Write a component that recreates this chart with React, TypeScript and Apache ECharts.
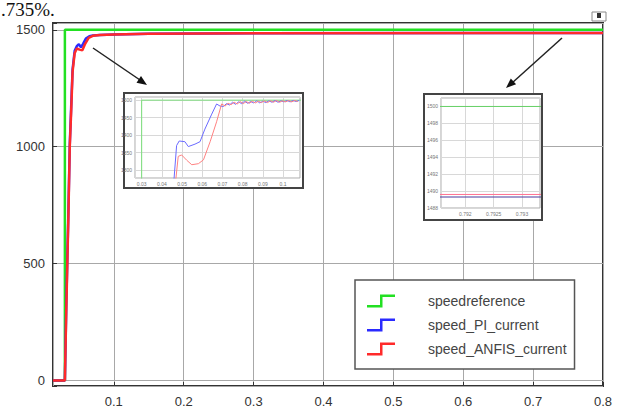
import React, { useEffect, useRef } from 'react';
import * as echarts from 'echarts';

// ---------- main chart data ----------
const X_TICKS = [0.1, 0.2, 0.3, 0.4, 0.5, 0.6, 0.7, 0.8];
const Y_TICKS = [0, 500, 1000, 1500];
const SERIES_NAMES = ['speedreference', 'speed_PI_current', 'speed_ANFIS_current'];

const REF_T = [0.013, 0.03, 0.03, 0.8];
const REF_V = [0, 0, 1500, 1500];

const PI_T = [0.013, 0.03, 0.032, 0.035, 0.037, 0.039, 0.041, 0.044, 0.047, 0.05, 0.053, 0.056, 0.06, 0.065, 0.07, 0.08, 0.1, 0.15, 0.3, 0.8];
const PI_V = [0, 0, 320, 720, 1010, 1170, 1330, 1410, 1430, 1438, 1425, 1440, 1462, 1472, 1476, 1478, 1480, 1483, 1485, 1486];

const ANFIS_T = [0.013, 0.03, 0.032, 0.035, 0.037, 0.039, 0.041, 0.044, 0.047, 0.051, 0.055, 0.059, 0.064, 0.07, 0.08, 0.1, 0.15, 0.3, 0.8];
const ANFIS_V = [0, 0, 300, 700, 1000, 1150, 1320, 1400, 1420, 1415, 1412, 1440, 1465, 1474, 1478, 1480, 1483, 1485, 1486];

// ---------- left inset (zoom on 0.03 .. 0.1) ----------
const L_X_TICKS = [0.03, 0.04, 0.05, 0.06, 0.07, 0.08, 0.09, 0.1];
const L_Y_TICKS = [1300, 1350, 1400, 1450, 1500];
const L_REF_T = [0.03, 0.03, 0.11];
const L_REF_V = [1200, 1500, 1500];
const L_PI_T = [0.0457, 0.0473, 0.0486, 0.0514, 0.0531, 0.0564, 0.0589, 0.0613, 0.0647, 0.0671, 0.0688, 0.0705, 0.072, 0.0735, 0.075, 0.0765, 0.078, 0.0795, 0.081, 0.0825, 0.084, 0.0855, 0.087, 0.0885, 0.09, 0.0915, 0.093, 0.0945, 0.096, 0.0975, 0.099, 0.1005, 0.102, 0.1035, 0.105, 0.1065, 0.108];
const L_PI_V = [1250, 1370, 1383, 1381, 1367, 1374, 1381, 1417, 1460, 1489, 1483, 1482, 1490, 1486, 1494, 1488, 1495, 1490, 1497, 1491, 1496, 1492, 1498, 1492, 1497, 1493, 1498, 1494, 1499, 1494, 1498, 1495, 1499, 1495, 1499, 1496, 1499];
const L_AN_T = [0.0465, 0.0481, 0.0498, 0.0523, 0.0548, 0.0581, 0.0606, 0.0639, 0.0671, 0.0696, 0.0713, 0.0728, 0.0743, 0.0758, 0.0773, 0.0788, 0.0803, 0.0818, 0.0833, 0.0848, 0.0863, 0.0878, 0.0893, 0.0908, 0.0923, 0.0938, 0.0953, 0.0968, 0.0983, 0.0998, 0.1013, 0.1028, 0.1043, 0.1058, 0.1073];
const L_AN_V = [1250, 1339, 1343, 1328, 1315, 1318, 1329, 1381, 1438, 1489, 1483, 1491, 1487, 1494, 1489, 1496, 1490, 1496, 1491, 1497, 1492, 1497, 1493, 1498, 1493, 1498, 1494, 1499, 1494, 1498, 1495, 1499, 1495, 1499, 1496];

// ---------- right inset (zoom on steady state) ----------
const R_X_TICKS = [0.792, 0.7925, 0.793];
const R_Y_TICKS = [1488, 1490, 1492, 1494, 1496, 1498, 1500];
const R_T = [0.7915, 0.7934];
const R_REF_V = [1500, 1500];
const R_PI_V = [1489.3, 1489.3];
const R_AN_V = [1489.6, 1489.6];

const zip = (t: number[], v: number[]) => t.map((x, i) => [x, v[i]]);
const tickFmt = (ticks: number[]) => (v: number) => {
  const m = ticks.find((t) => Math.abs(t - v) < 1e-9);
  return m === undefined ? '' : String(m);
};

const STEP_ICON = 'path://M0,10.5 L13,10.5 L13,0 L28,0 L28,2.5 L15.5,2.5 L15.5,13 L0,13 Z';
const FONT = "'Liberation Sans', Arial, sans-serif";

export default function App() {
  const ref = useRef<HTMLDivElement>(null);
  useEffect(() => {
    if (!ref.current) return;
    const chart = echarts.init(ref.current, undefined, { renderer: 'svg' });
    const insetAxisLabel = { fontSize: 5, color: '#777', fontFamily: FONT, margin: 3 };
    const insetSplit = { show: true, lineStyle: { color: '#d8d8d8', width: 1 } };
    chart.setOption({
      animation: false,
      backgroundColor: '#fff',
      grid: [
        { left: 53, top: 23, right: 23, bottom: 24, show: true, borderColor: '#333', borderWidth: 2, backgroundColor: '#fff' },
        { left: 135, top: 97, width: 165, height: 81, show: true, borderColor: '#aaa', borderWidth: 1, backgroundColor: '#fff', z: 6 },
        { left: 441, top: 98, width: 99, height: 110, show: true, borderColor: '#aaa', borderWidth: 1, backgroundColor: '#fff', z: 6 },
      ],
      xAxis: [
        {
          type: 'value', gridIndex: 0, min: 0.013, max: 0.8, splitNumber: 8,
          axisLine: { show: false, onZero: false },
          axisTick: { show: true, inside: true, length: 4, lineStyle: { color: '#333' } },
          axisLabel: { formatter: tickFmt(X_TICKS), fontSize: 13, color: '#333', fontFamily: FONT, margin: 9, showMinLabel: false },
          splitLine: { show: true, lineStyle: { color: '#a8a8a8', width: 1 } },
        },
        {
          type: 'value', gridIndex: 1, min: 0.0267, max: 0.1084, splitNumber: 8, z: 7,
          axisLine: { show: false, onZero: false }, axisTick: { show: false },
          axisLabel: { ...insetAxisLabel, formatter: tickFmt(L_X_TICKS) }, splitLine: insetSplit,
        },
        {
          type: 'value', gridIndex: 2, min: 0.79157, max: 0.79332, splitNumber: 3, z: 7,
          axisLine: { show: false, onZero: false }, axisTick: { show: false },
          axisLabel: { ...insetAxisLabel, formatter: tickFmt(R_X_TICKS) }, splitLine: insetSplit,
        },
      ],
      yAxis: [
        {
          type: 'value', gridIndex: 0, min: -24, max: 1529, splitNumber: 3,
          axisLine: { show: false },
          axisTick: { show: true, inside: true, length: 4, lineStyle: { color: '#333' } },
          axisLabel: { formatter: tickFmt(Y_TICKS), fontSize: 13, color: '#333', fontFamily: FONT, margin: 8 },
          splitLine: { show: true, lineStyle: { color: '#a8a8a8', width: 1 } },
        },
        {
          type: 'value', gridIndex: 1, min: 1277, max: 1509, splitNumber: 5, z: 7,
          axisLine: { show: false }, axisTick: { show: false },
          axisLabel: { ...insetAxisLabel, formatter: tickFmt(L_Y_TICKS) }, splitLine: insetSplit,
        },
        {
          type: 'value', gridIndex: 2, min: 1488, max: 1501, splitNumber: 6, z: 7,
          axisLine: { show: false }, axisTick: { show: false },
          axisLabel: { ...insetAxisLabel, formatter: tickFmt(R_Y_TICKS) }, splitLine: insetSplit,
        },
      ],
      legend: {
        orient: 'vertical', left: 355, top: 280,
        padding: [14, 8, 13, 12], itemGap: 10, itemWidth: 28, itemHeight: 13,
        backgroundColor: '#fff', borderColor: '#555', borderWidth: 1.5, borderRadius: 0,
        textStyle: { fontSize: 14, color: '#444', fontFamily: FONT, padding: [0, 0, 0, 28] },
        data: SERIES_NAMES.map((n) => ({ name: n, icon: STEP_ICON })),
      },
      series: [
        { name: SERIES_NAMES[0], type: 'line', xAxisIndex: 0, yAxisIndex: 0, data: zip(REF_T, REF_V), showSymbol: false, lineStyle: { color: '#22e022', width: 2.5 }, itemStyle: { color: '#22e022' } },
        { name: SERIES_NAMES[1], type: 'line', xAxisIndex: 0, yAxisIndex: 0, data: zip(PI_T, PI_V), showSymbol: false, lineStyle: { color: '#2a2aff', width: 2.5 }, itemStyle: { color: '#2a2aff' } },
        { name: SERIES_NAMES[2], type: 'line', xAxisIndex: 0, yAxisIndex: 0, data: zip(ANFIS_T, ANFIS_V), showSymbol: false, lineStyle: { color: '#ff2a2a', width: 2.5 }, itemStyle: { color: '#ff2a2a' } },
        { name: 'L_ref', type: 'line', xAxisIndex: 1, yAxisIndex: 1, z: 8, data: zip(L_REF_T, L_REF_V), showSymbol: false, lineStyle: { color: '#7be07b', width: 1 } },
        { name: 'L_pi', type: 'line', xAxisIndex: 1, yAxisIndex: 1, z: 8, data: zip(L_PI_T, L_PI_V), showSymbol: false, lineStyle: { color: '#6a6aff', width: 1 } },
        { name: 'L_an', type: 'line', xAxisIndex: 1, yAxisIndex: 1, z: 8, data: zip(L_AN_T, L_AN_V), showSymbol: false, lineStyle: { color: '#ff8080', width: 1 } },
        { name: 'R_ref', type: 'line', xAxisIndex: 2, yAxisIndex: 2, z: 8, data: zip(R_T, R_REF_V), showSymbol: false, lineStyle: { color: '#66d066', width: 1 } },
        { name: 'R_an', type: 'line', xAxisIndex: 2, yAxisIndex: 2, z: 8, data: zip(R_T, R_AN_V), showSymbol: false, lineStyle: { color: '#ff7090', width: 1 } },
        { name: 'R_pi', type: 'line', xAxisIndex: 2, yAxisIndex: 2, z: 8, data: zip(R_T, R_PI_V), showSymbol: false, lineStyle: { color: '#4a3a9a', width: 1 } },
      ],
      graphic: [
        { type: 'text', z: 20, x: 1, y: 0, style: { text: '.735%.', fontSize: 19, fontFamily: "'Liberation Serif', 'Times New Roman', serif", fill: '#111', verticalAlign: 'top' } },
        { type: 'rect', z: 5, shape: { x: 124, y: 93, width: 179, height: 95 }, style: { fill: '#fff', stroke: '#444', lineWidth: 2 } },
        { type: 'rect', z: 5, shape: { x: 424, y: 94, width: 118, height: 126 }, style: { fill: '#fff', stroke: '#444', lineWidth: 2 } },
        { type: 'line', z: 10, shape: { x1: 93, y1: 48, x2: 140, y2: 80 }, style: { stroke: '#222', lineWidth: 1.5 } },
        { type: 'polygon', z: 10, shape: { points: [[147, 85], [136.5, 82.65], [141, 76.05]] }, style: { fill: '#111' } },
        { type: 'line', z: 10, shape: { x1: 562, y1: 38, x2: 512, y2: 83 }, style: { stroke: '#222', lineWidth: 1.5 } },
        { type: 'polygon', z: 10, shape: { points: [[506, 88], [510.8, 78.4], [516.1, 84.3]] }, style: { fill: '#111' } },
        { type: 'rect', z: 10, shape: { x: 592, y: 12, width: 14, height: 9 }, style: { fill: '#fff', stroke: '#888', lineWidth: 1 } },
        { type: 'rect', z: 11, shape: { x: 597, y: 13, width: 4, height: 5 }, style: { fill: '#333' } },
      ],
    });
    return () => chart.dispose();
  }, []);
  return (
    <div style={{ position: 'fixed', left: 0, top: 0, width: 626, height: 410, background: '#fff' }}>
      <div ref={ref} style={{ width: 626, height: 410 }} />
    </div>
  );
}
